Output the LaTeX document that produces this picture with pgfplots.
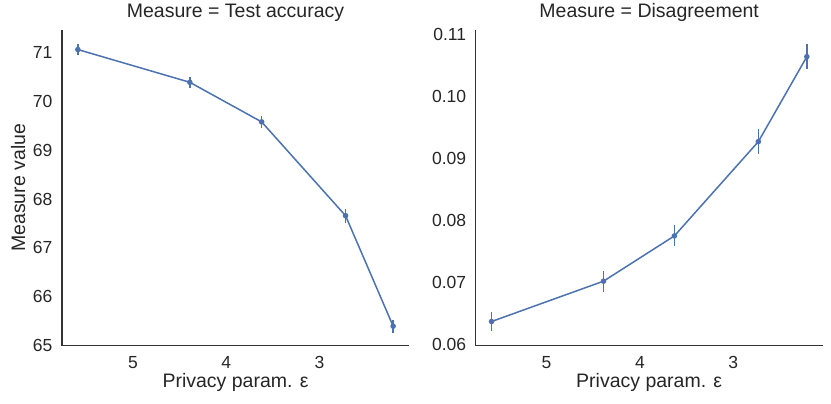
\documentclass[border=0pt]{standalone}
\usepackage{fontspec}
\setmainfont{Liberation Sans}
\usepackage{pgfplots}
\pgfplotsset{compat=1.18}
\usepackage{pgfplotstable}
\definecolor{sbblue}{HTML}{4C72B0}
\definecolor{spine}{HTML}{333333}
\definecolor{textc}{HTML}{262626}
\newcommand{\fs}{\fontsize{17.5}{21}\selectfont}
\newcommand{\fl}{\fontsize{19.5}{23}\selectfont}

\pgfplotstableread{
x y err
5.59 71.06 0.11
4.39 70.39 0.11
3.62 69.58 0.13
2.72 67.66 0.14
2.21 65.40 0.13
}\acc

\pgfplotstableread{
x y err
5.59 0.0637 0.0016
4.39 0.0702 0.0017
3.63 0.0775 0.0017
2.73 0.0927 0.0020
2.21 0.1064 0.0020
}\dis

\pgfplotsset{
  mystyle/.style={
    scale only axis, width=347pt, height=315.7pt,
    anchor=south west,
    axis x line*=bottom, axis y line*=left,
    axis line style={draw=spine, line width=1.25pt, -},
    x dir=reverse, xmin=2.04, xmax=5.76, xtick={3,4,5},
    major tick length=0pt,
    tick label style={font=\fs, text=textc},
    /pgf/number format/assume math mode=true,
    label style={font=\fl, text=textc},
    title style={font=\fl, text=textc, at={(axis description cs:0.5,1)}, anchor=base, yshift=6.7pt},
    xlabel={Privacy param. ε},
    xlabel style={at={(axis description cs:0.5,0)}, anchor=base, yshift=-41.6pt},
    ylabel style={at={(axis description cs:-0.1066,0.5)}, anchor=base, rotate=0},
    xticklabel style={anchor=base, yshift=-22.6pt},
    yticklabel style={anchor=east, xshift=-6pt},
  },
  myplot/.style={
    color=sbblue, line width=1.5pt, mark=*, mark size=2pt,
    error bars/.cd, y dir=both, y explicit,
    error bar style={line width=1.5pt, sbblue}, error mark=none,
  }
}

\begin{document}
\begin{tikzpicture}
\useasboundingbox (-62pt,-58.3pt) rectangle (769pt,345.7pt);
\begin{axis}[mystyle, at={(0pt,0pt)},
  title={Measure = Test accuracy},
  ylabel={Measure value},
  ymin=65.0, ymax=71.46, ytick={65,66,67,68,69,70,71}]
\addplot[myplot] table[x=x, y=y, y error=err] {\acc};
\end{axis}
\begin{axis}[mystyle, at={(413.7pt,0pt)},
  title={Measure = Disagreement},
  ymin=0.0598, ymax=0.1107, ytick={0.06,0.07,0.08,0.09,0.10,0.11},
  yticklabel style={/pgf/number format/.cd, fixed, fixed zerofill, precision=2},
  scaled y ticks=false]
\addplot[myplot] table[x=x, y=y, y error=err] {\dis};
\end{axis}
\end{tikzpicture}
\end{document}
